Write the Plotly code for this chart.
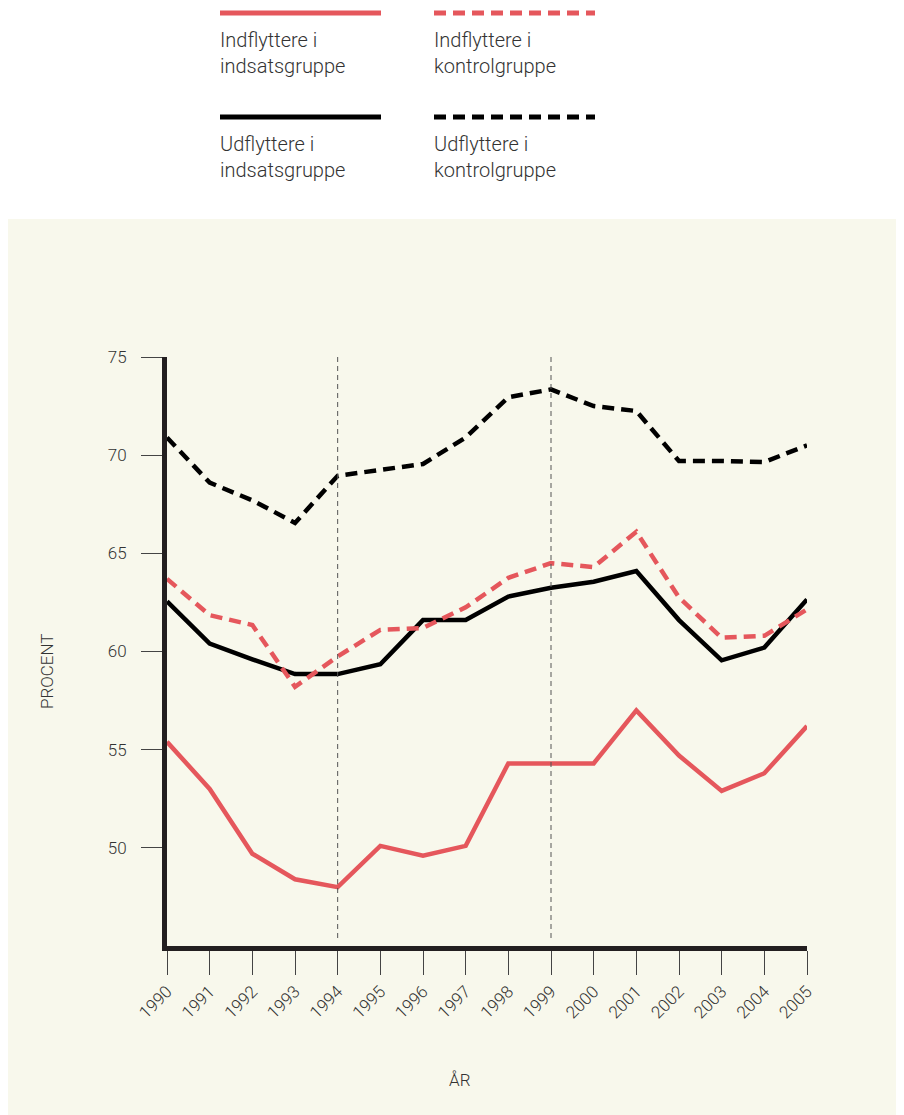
import plotly.graph_objects as go

years = list(range(1990, 2006))

ind_indsats = [55.4, 53.0, 49.7, 48.4, 48.0, 50.1, 49.6, 50.1, 54.3, 54.3, 54.3, 57.0, 54.7, 52.9, 53.8, 56.2]
ud_indsats = [62.55, 60.4, 59.6, 58.85, 58.85, 59.35, 61.6, 61.6, 62.8, 63.25, 63.55, 64.1, 61.6, 59.55, 60.2, 62.65]
ind_kontrol = [63.7, 61.85, 61.35, 58.2, 59.75, 61.1, 61.2, 62.25, 63.75, 64.5, 64.3, 66.1, 62.75, 60.7, 60.8, 62.15]
ud_kontrol = [70.9, 68.6, 67.7, 66.55, 68.95, 69.25, 69.55, 70.9, 72.95, 73.35, 72.5, 72.25, 69.7, 69.7, 69.65, 70.5]

marker_years = [1994, 1999]
ytick_vals = [50, 55, 60, 65, 70, 75]

RED = "#e5575c"
BLACK = "#000000"
DARK = "#231f20"
CREAM = "#f8f8ec"
FONT = "Roboto"
TXT = "#333333"
DASH = "12px,7px"

# page has an 8px body margin, so target coords are shifted by OFF
OFF = 8
W, H = 904, 1115
L, R, T, B = 167 - OFF, 97 + OFF, 357 - OFF, 169 + OFF
PW, PH = W - L - R, H - T - B


def px(x):
    return (x - OFF - L) / PW


def py(y):
    return (H - B - (y - OFF)) / PH


fig = go.Figure()

series = [
    ("Indflyttere i indsatsgruppe", ind_indsats, RED, "solid"),
    ("Udflyttere i indsatsgruppe", ud_indsats, BLACK, "solid"),
    ("Indflyttere i kontrolgruppe", ind_kontrol, RED, DASH),
    ("Udflyttere i kontrolgruppe", ud_kontrol, BLACK, DASH),
]
for name, vals, col, dash in series:
    fig.add_trace(go.Scatter(
        x=years, y=vals, mode="lines", name=name,
        line=dict(color=col, width=4.5, dash=dash),
        showlegend=False,
    ))

shapes = []
# cream panel
shapes.append(dict(type="rect", xref="paper", yref="paper",
                   x0=px(7), x1=px(920), y0=py(1130), y1=py(219),
                   fillcolor=CREAM, line=dict(width=0), layer="below"))
# vertical reference lines
for yr in marker_years:
    shapes.append(dict(type="line", xref="x", yref="paper",
                       x0=yr, x1=yr, y0=py(938), y1=1,
                       line=dict(color="#555555", width=1, dash="5px,4px")))

# manual legend
legend_items = [
    (220, 381, 13, RED, "solid", "Indflyttere i<br>indsatsgruppe"),
    (434, 595, 13, RED, DASH, "Indflyttere i<br>kontrolgruppe"),
    (220, 381, 117, BLACK, "solid", "Udflyttere i<br>indsatsgruppe"),
    (434, 595, 117, BLACK, DASH, "Udflyttere i<br>kontrolgruppe"),
]
annotations = []
for x0, x1, y, col, dash, label in legend_items:
    shapes.append(dict(type="line", xref="paper", yref="paper",
                       x0=px(x0), x1=px(x1), y0=py(y), y1=py(y),
                       line=dict(color=col, width=5, dash=dash)))
    annotations.append(dict(xref="paper", yref="paper", x=px(x0 - 2), y=py(y + 13),
                            xanchor="left", yanchor="top", align="left",
                            text=label, showarrow=False,
                            font=dict(family=FONT, size=20, color=TXT, weight=300)))

annotations.append(dict(xref="paper", yref="paper", x=px(47), y=py(672),
                        xanchor="center", yanchor="middle",
                        text="PROCENT", textangle=-90, showarrow=False,
                        font=dict(family=FONT, size=17, color=TXT, weight=300)))
annotations.append(dict(xref="paper", yref="paper", x=px(460), y=py(1080),
                        xanchor="center", yanchor="middle",
                        text="ÅR", showarrow=False,
                        font=dict(family=FONT, size=17, color=TXT, weight=300)))

fig.update_layout(
    width=W, height=H,
    margin=dict(l=L, r=R, t=T, b=B, pad=0),
    paper_bgcolor="white",
    plot_bgcolor=CREAM,
    shapes=shapes,
    annotations=annotations,
    font=dict(family=FONT, color=TXT),
)

fig.update_xaxes(
    range=[1990, 2005], tickvals=years, ticktext=[str(y) for y in years],
    tickangle=-45, ticks="outside", ticklen=24, tickcolor="#444444", tickwidth=1,
    tickfont=dict(family=FONT, size=17, color=TXT, weight=300),
    showline=True, linecolor=DARK, linewidth=5,
    showgrid=False, zeroline=False,
)
fig.update_yaxes(
    range=[45, 75], tickvals=ytick_vals,
    ticks="outside", ticklen=21, tickcolor="#444444", tickwidth=1,
    ticklabelstandoff=11,
    tickfont=dict(family=FONT, size=17, color=TXT, weight=300),
    showline=True, linecolor=DARK, linewidth=5,
    showgrid=False, zeroline=False,
)

fig.write_html("out.html")
